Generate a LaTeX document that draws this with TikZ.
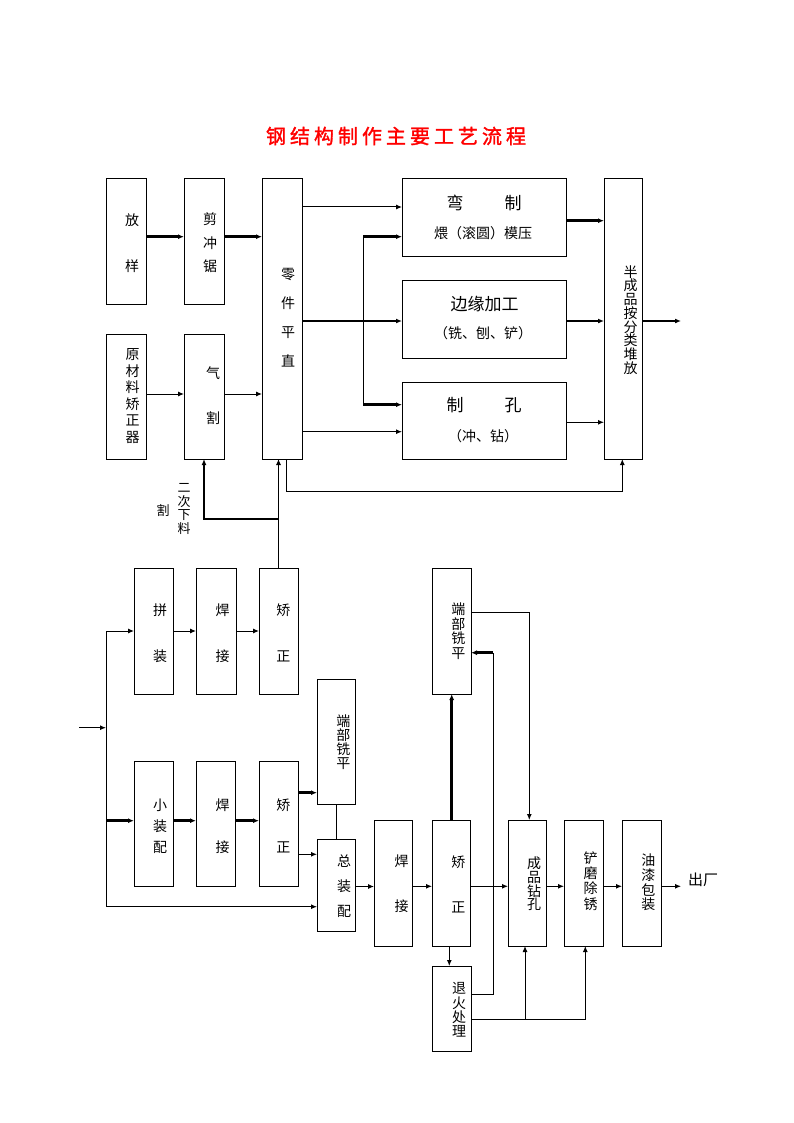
\documentclass[tikz,border=0pt]{standalone}
\usepackage{fontspec}
\newfontfamily\cjk{Noto Sans CJK SC}
\newfontfamily\cjkt[LetterSpace=20,FakeBold=1.5]{Noto Sans CJK SC}
\usetikzlibrary{arrows.meta}
\newcommand\bxn[5]{\node[bx,minimum width={#4-#2},minimum height={#5-#3}] (#1) at ({(#2+#4)/2},{(#3+#5)/2}) {};}
\begin{document}
\begin{tikzpicture}[x=1pt,y=-1pt,
 bx/.style={draw,line width=1pt,inner sep=0pt,outer sep=0pt},
 lbl/.style={inner sep=0pt,align=center,font=\cjk\fontsize{14}{#1}\selectfont},
 lblb/.style={inner sep=0pt,font=\cjk\fontsize{17}{20}\selectfont},
 ln/.style={line width=1pt},
 tk/.style={line width=2.5pt},
 md/.style={line width=1.8pt},
 arr/.style={-{Latex[length=6pt,width=5pt]}}]
\fill[white] (0,0) rectangle (794,1123);
\useasboundingbox (0,0) rectangle (794,1123);

\node[text=red,font=\cjkt\fontsize{20}{24}\selectfont,inner sep=0pt] (title) at (396,136) {钢结构制作主要工艺流程};

% top boxes
\bxn{fy}{106}{179}{146}{304}
\bxn{jcj}{184}{179}{224}{304}
\bxn{ljpz}{262}{179}{302}{459}
\bxn{ycl}{106}{334}{146}{459}
\bxn{qg}{184}{334}{224}{459}
\bxn{wz}{402}{179}{566}{256}
\bxn{bylg}{402}{280}{566}{358}
\bxn{zk}{402}{382}{566}{459}
\bxn{bcp}{604}{179}{642}{459}

\node[lbl=46] (fy-t) at (132,243) {放\\样};
\node[lbl=23.5] (jcj-t) at (210,243) {剪\\冲\\锯};
\node[lbl=29] (ljpz-t) at (288,318) {零\\件\\平\\直};
\node[lbl=16.5] (ycl-t) at (132.5,396) {原\\材\\料\\矫\\正\\器};
\node[lbl=45] (qg-t) at (213,396) {气\\割};
\node[lblb] (wz-a) at (455,203) {弯};
\node[lblb] (wz-b) at (513,203) {制};
\node[lbl=16] (wz-c) at (483,233) {煨（滚圆）模压};
\node[lblb] (bylg-a) at (484.5,304) {边缘加工};
\node[lbl=16] (bylg-b) at (483,333) {（铣、刨、铲）};
\node[lblb] (zk-a) at (455,405) {制};
\node[lblb] (zk-b) at (513,405) {孔};
\node[lbl=16] (zk-c) at (483,436) {（冲、钻）};
\node[lbl=13.75] (bcp-t) at (630.5,320) {半\\成\\品\\按\\分\\类\\堆\\放};

\node[inner sep=0pt,align=center,font=\cjk\fontsize{13}{13.75}\selectfont] (ecxl) at (184,509) {二\\次\\下\\料};
\node[inner sep=0pt,font=\cjk\fontsize{13}{14}\selectfont] (ge) at (163,511) {割};

% top connectors
\draw[tk,arr] (fy.east |- 0,236.7) -- (jcj.west |- 0,236.7);
\draw[tk,arr] (jcj.east |- 0,236.7) -- (ljpz.west |- 0,236.7);
\draw[ln,arr] (ycl.east |- 0,394) -- (qg.west |- 0,394);
\draw[ln,arr] (qg.east |- 0,394) -- (ljpz.west |- 0,394);
\draw[ln,arr] (ljpz.east |- 0,207) -- (wz.west |- 0,207);
\draw[tk,arr] (ljpz.east |- 0,321) -- (bylg.west |- 0,321);
\coordinate (br1) at (363,236.7);
\coordinate (br2) at (363,404.7);
\draw[ln] (br1) -- (br2);
\draw[tk,arr] (br1) -- (wz.west |- br1);
\draw[tk,arr] (br2) -- (zk.west |- br2);
\draw[ln,arr] (ljpz.east |- 0,431.7) -- (zk.west |- 0,431.7);
\draw[tk,arr] (wz.east |- 0,220.7) -- (bcp.west |- 0,220.7);
\draw[tk,arr] (bylg.east |- 0,321) -- (bcp.west |- 0,321);
\draw[ln,arr] (zk.east |- 0,422.3) -- (bcp.west |- 0,422.3);
\coordinate (out1) at (681,321);
\draw[tk,arr] (bcp.east |- out1) -- (out1);
\draw[ln,arr] (ljpz.south -| 286.7,0) -- (286.7,491.5) -- (622.3,491.5) -- (bcp.south -| 622.3,0);

% bottom boxes
\bxn{pz}{134}{568}{173}{694}
\bxn{hja}{196}{568}{236}{694}
\bxn{jza}{259}{568}{298}{694}
\bxn{xzp}{134}{761}{173}{886}
\bxn{hjb}{196}{761}{235}{886}
\bxn{jzb}{259}{761}{298}{886}
\bxn{dba}{317}{679}{355}{804}
\bxn{zzp}{317}{839}{355}{931}
\bxn{hjc}{374}{820}{412}{946}
\bxn{jzc}{432}{820}{470}{946}
\bxn{dbb}{432}{568}{471}{694}
\bxn{cpzk}{508}{820}{546}{946}
\bxn{cmcx}{564}{820}{603}{946}
\bxn{yqbz}{622}{820}{661}{946}
\bxn{thcl}{432}{966}{471}{1051}

\node[lbl=46] (pz-t) at (160,633) {拼\\装};
\node[lbl=46] (hja-t) at (222.7,633) {焊\\接};
\node[lbl=46] (jza-t) at (283.3,633) {矫\\正};
\node[lbl=21] (xzp-t) at (160,826) {小\\装\\配};
\node[lbl=42] (hjb-t) at (222.7,826) {焊\\接};
\node[lbl=42] (jzb-t) at (283.3,826) {矫\\正};
\node[lbl=14] (dba-t) at (343.3,742) {端\\部\\铣\\平};
\node[lbl=25] (zzp-t) at (344,886) {总\\装\\配};
\node[lbl=45] (hjc-t) at (401.7,884) {焊\\接};
\node[lbl=45] (jzc-t) at (458.3,884) {矫\\正};
\node[lbl=14.5] (dbb-t) at (458.3,631) {端\\部\\铣\\平};
\node[lbl=13.75] (cpzk-t) at (534,884) {成\\品\\钻\\孔};
\node[lbl=15.4] (cmcx-t) at (590.7,881) {铲\\磨\\除\\锈};
\node[lbl=14.6] (yqbz-t) at (648.3,882.5) {油\\漆\\包\\装};
\node[lbl=14.2] (thcl-t) at (459,1010) {退\\火\\处\\理};
\node[inner sep=0pt,font=\cjk\fontsize{15}{16}\selectfont] (chuchang) at (703,880) {出厂};

% bottom connectors
\draw[ln,arr] (jza.north) -- (jza.north |- ljpz.south);
\draw[md,arr] (jza.north |- 0,519.3) -- (204,519.3) -- (qg.south);
\coordinate (in) at (79,727.7);
\coordinate (vin) at (106,727.7);
\draw[ln,arr] (in) -- (vin);
\draw[ln] (106,631) -- (106,906.7);
\draw[ln,arr] (106,631) -- (pz.west |- 0,631);
\draw[tk,arr] (106,820.7) -- (xzp.west |- 0,820.7);
\draw[ln,arr] (106,906.7) -- (zzp.west |- 0,906.7);
\draw[ln,arr] (pz.east |- 0,631) -- (hja.west |- 0,631);
\draw[ln,arr] (hja.east |- 0,631) -- (jza.west |- 0,631);
\draw[tk,arr] (xzp.east |- 0,820.7) -- (hjb.west |- 0,820.7);
\draw[tk,arr] (hjb.east |- 0,820.7) -- (jzb.west |- 0,820.7);
\draw[tk,arr] (jzb.east |- 0,792.7) -- (dba.west |- 0,792.7);
\draw[ln,arr] (jzb.east |- 0,854.3) -- (zzp.west |- 0,854.3);
\draw[ln] (dba.south) -- (zzp.north);
\draw[ln,arr] (zzp.east |- 0,886.5) -- (hjc.west |- 0,886.5);
\draw[ln,arr] (hjc.east |- 0,886.3) -- (jzc.west |- 0,886.3);
\draw[ln,arr] (jzc.east |- 0,886.3) -- (cpzk.west |- 0,886.3);
\draw[ln,arr] (cpzk.east |- 0,886.3) -- (cmcx.west |- 0,886.3);
\draw[ln,arr] (cmcx.east |- 0,886.3) -- (yqbz.west |- 0,886.3);
\coordinate (out2) at (681,886.3);
\draw[ln,arr] (yqbz.east |- out2) -- (out2);
\draw[tk,arr] (jzc.north -| 451.7,0) -- (dbb.south -| 451.7,0);
\draw[ln,arr] (jzc.south -| 449.3,0) -- (thcl.north -| 449.3,0);
\draw[ln] (thcl.east |- 0,994.3) -- (493.3,994.3) -- (493.3,652.7);
\draw[tk,arr] (493.3,652.7) -- (dbb.east |- 0,652.7);
\draw[ln,arr] (dbb.east |- 0,612.3) -- (529.3,612.3) -- (cpzk.north -| 529.3,0);
\draw[ln,arr] (thcl.east |- 0,1019.3) -- (585.3,1019.3) -- (cmcx.south -| 585.3,0);
\draw[ln,arr] (525,1019.3) -- (cpzk.south -| 525,0);
\end{tikzpicture}
\end{document}
